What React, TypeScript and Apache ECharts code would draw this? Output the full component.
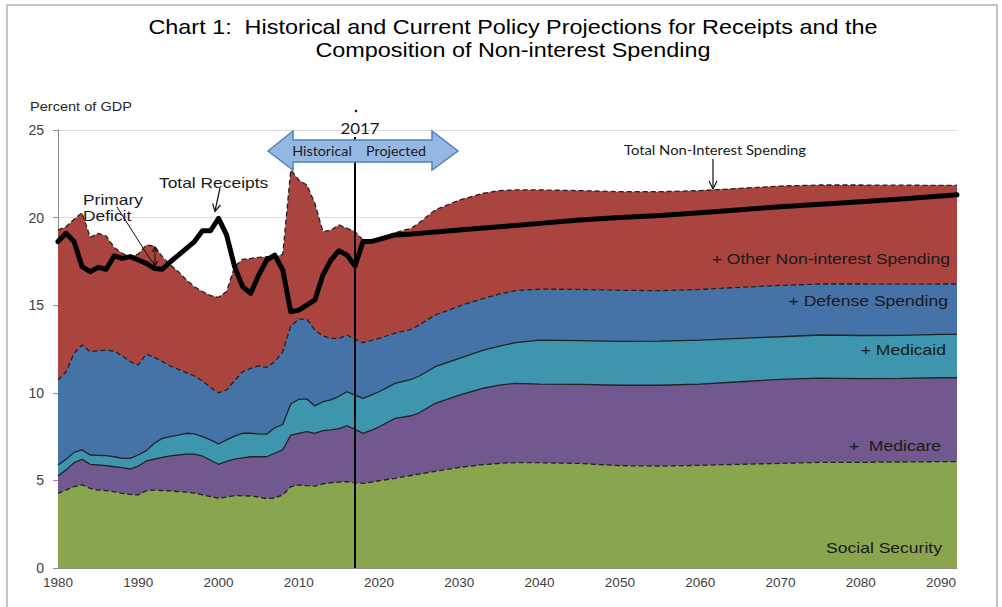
import React, { useEffect, useRef } from "react";
import * as echarts from "echarts";

// x positions (years): annual history 1980-2017, then projection points
const years = [
  1980, 1981, 1982, 1983, 1984, 1985, 1986, 1987, 1988, 1989,
  1990, 1991, 1992, 1993, 1994, 1995, 1996, 1997, 1998, 1999,
  2000, 2001, 2002, 2003, 2004, 2005, 2006, 2007, 2008, 2009,
  2010, 2011, 2012, 2013, 2014, 2015, 2016, 2017,
  2018, 2019, 2020, 2022, 2024, 2025, 2027, 2030, 2033, 2035, 2037,
  2040, 2045, 2050, 2055, 2060, 2065, 2070, 2075, 2080, 2085, 2090, 2092,
];

// cumulative tops of each band, percent of GDP
const socialSecurity = [
  4.26, 4.45, 4.65, 4.74, 4.55, 4.45, 4.42, 4.35, 4.26, 4.2,
  4.17, 4.41, 4.45, 4.42, 4.4, 4.36, 4.33, 4.27, 4.17, 4.08,
  3.98, 4.05, 4.13, 4.12, 4.11, 4.05, 3.96, 4.0, 4.17, 4.64,
  4.74, 4.7, 4.68, 4.8, 4.87, 4.9, 4.93, 4.87,
  4.83, 4.9, 4.98, 5.12, 5.28, 5.36, 5.52, 5.74, 5.9, 5.97, 6.02,
  6.01, 5.97, 5.84, 5.82, 5.86, 5.92, 5.97, 6.03, 6.03, 6.05, 6.07, 6.07,
];
const plusMedicare = [
  5.25, 5.6, 6.01, 6.2, 5.92, 5.88, 5.84, 5.78, 5.73, 5.65,
  5.82, 6.11, 6.22, 6.32, 6.4, 6.45, 6.5, 6.5, 6.39, 6.15,
  5.92, 6.08, 6.22, 6.28, 6.35, 6.35, 6.35, 6.55, 6.74, 7.59,
  7.69, 7.78, 7.69, 7.84, 7.88, 7.95, 8.12, 7.91,
  7.68, 7.85, 8.06, 8.54, 8.69, 8.86, 9.4, 9.87, 10.26, 10.44, 10.54,
  10.5, 10.48, 10.43, 10.43, 10.5, 10.63, 10.77, 10.84, 10.81, 10.82, 10.86, 10.86,
];
const plusMedicaid = [
  5.88, 6.2, 6.6, 6.74, 6.45, 6.43, 6.41, 6.35, 6.26, 6.26,
  6.45, 6.7, 7.12, 7.4, 7.5, 7.59, 7.69, 7.65, 7.5, 7.31,
  7.08, 7.31, 7.53, 7.69, 7.69, 7.65, 7.64, 8.0, 8.19, 9.36,
  9.63, 9.65, 9.25, 9.49, 9.6, 9.8, 10.06, 9.87,
  9.68, 9.87, 10.06, 10.54, 10.76, 10.96, 11.49, 11.96, 12.44, 12.67, 12.86,
  13.01, 12.98, 12.94, 12.95, 13.01, 13.11, 13.2, 13.3, 13.27, 13.28, 13.34, 13.34,
];
const plusDefense = [
  10.73, 11.2, 12.25, 12.73, 12.35, 12.4, 12.44, 12.38, 12.1, 11.78,
  11.59, 12.21, 12.02, 11.78, 11.53, 11.34, 11.15, 10.96, 10.67, 10.31,
  10.0, 10.16, 10.69, 11.2, 11.4, 11.53, 11.45, 11.78, 12.35, 13.81,
  14.2, 14.2, 13.58, 13.24, 13.11, 13.1, 13.3, 13.05,
  12.86, 12.98, 13.11, 13.4, 13.62, 13.87, 14.44, 14.95, 15.39, 15.64, 15.83,
  15.92, 15.9, 15.85, 15.83, 15.9, 16.02, 16.13, 16.21, 16.21, 16.2, 16.21, 16.21,
];
const totalNonInterest = [
  19.29, 19.48, 19.9, 20.28, 18.87, 19.1, 18.95, 18.3, 17.96, 17.77,
  17.92, 18.43, 18.38, 17.77, 17.3, 16.91, 16.44, 16.06, 15.78, 15.55,
  15.45, 15.78, 17.2, 17.62, 17.67, 17.73, 17.77, 17.77, 17.9, 22.72,
  22.15, 21.86, 20.82, 19.2, 19.29, 19.58, 19.39, 19.2,
  18.72, 18.72, 18.81, 19.14, 19.39, 19.71, 20.44, 21.0, 21.39, 21.54, 21.58,
  21.58, 21.54, 21.48, 21.48, 21.54, 21.67, 21.8, 21.86, 21.86, 21.85, 21.84, 21.84,
];
const totalReceipts = [
  18.63, 19.1, 18.63, 17.2, 16.91, 17.16, 17.05, 17.81, 17.67, 17.77,
  17.58, 17.39, 17.1, 17.05, 17.48, 17.86, 18.24, 18.63, 19.25, 19.25,
  19.96, 19.01, 17.2, 16.06, 15.67, 16.72, 17.58, 17.86, 17.01, 14.63,
  14.72, 15.01, 15.3, 16.72, 17.58, 18.11, 17.86, 17.24,
  18.63, 18.63, 18.76, 19.01, 19.06, 19.1, 19.18, 19.29, 19.4, 19.48, 19.55,
  19.67, 19.86, 20.01, 20.12, 20.28, 20.45, 20.62, 20.76, 20.9, 21.06, 21.23, 21.3,
];

const yTicks = [0, 5, 10, 15, 20, 25];
const splitYear = 2017;

const SANS = '"Liberation Sans", Arial, sans-serif';
const CAL = 'Lato, "Open Sans", sans-serif';

const pts = (arr: number[]) => years.map((y, i) => [y, arr[i]]);

const band = (name: string, data: number[], color: string, dashed: boolean) => ({
  type: "line",
  name,
  data: pts(data),
  symbol: "none",
  silent: true,
  lineStyle: { color: "#222", width: 1.3, type: dashed ? [5, 3] : "solid" },
  areaStyle: { color, opacity: 1 },
});

const txt = (
  x: number,
  y: number,
  text: string,
  size: number,
  align: string,
  family = SANS,
  scaleX = 1.17,
  fill = "#1a1a1a"
) => ({
  type: "text",
  x,
  y,
  scaleX,
  silent: true,
  z: 100,
  style: {
    text,
    fontSize: size,
    fontFamily: family,
    fill,
    align,
    verticalAlign: "middle",
    textAlign: align,
    textVerticalAlign: "middle",
  },
});

const seg = (x1: number, y1: number, x2: number, y2: number, w = 1.2) => ({
  type: "line",
  silent: true,
  z: 100,
  shape: { x1, y1, x2, y2 },
  style: { stroke: "#111", lineWidth: w },
});

const head = (p: number[][]) => ({
  type: "polyline",
  silent: true,
  z: 100,
  shape: { points: p },
  style: { stroke: "#111", lineWidth: 1.2, fill: "none" },
});

export default function App() {
  const ref = useRef<HTMLDivElement>(null);
  useEffect(() => {
    if (!ref.current) return;
    const chart = echarts.init(ref.current, undefined, { renderer: "svg" });
    chart.setOption({
      animation: false,
      backgroundColor: "#ffffff",
      grid: { left: 58, right: 45, top: 130, bottom: 39 },
      xAxis: {
        type: "value",
        min: 1980,
        max: 2092,
        interval: 10,
        axisLine: { lineStyle: { color: "#8c8c8c" } },
        axisTick: { show: false },
        splitLine: { show: false },
        axisLabel: {
          fontSize: 13.5,
          color: "#404040",
          fontFamily: SANS,
          margin: 7,
          showMaxLabel: false,
          formatter: (v: number) => String(v),
        },
      },
      yAxis: {
        type: "value",
        min: yTicks[0],
        max: yTicks[yTicks.length - 1],
        interval: 5,
        axisLine: { show: true, lineStyle: { color: "#8c8c8c" } },
        axisTick: { show: true, length: 5, lineStyle: { color: "#8c8c8c" } },
        splitLine: { lineStyle: { color: "#dedede" } },
        axisLabel: { fontSize: 14, color: "#404040", fontFamily: SANS, margin: 14 },
      },
      series: [
        band("Other Non-interest Spending", totalNonInterest, "#A9443F", true),
        band("Defense Spending", plusDefense, "#4572A7", true),
        band("Medicaid", plusMedicaid, "#3D96AE", false),
        band("Medicare", plusMedicare, "#71588F", false),
        band("Social Security", socialSecurity, "#89A54E", true),
        {
          type: "line",
          name: "Total Receipts",
          data: pts(totalReceipts),
          symbol: "none",
          silent: true,
          z: 5,
          lineStyle: { color: "#000", width: 5, join: "round", cap: "round" },
          markLine: {
            silent: true,
            symbol: ["none", "none"],
            label: { show: false },
            lineStyle: { color: "#000", width: 2, type: "solid" },
            data: [[{ coord: [splitYear, 24.6] }, { coord: [splitYear, 0] }]],
          },
        },
      ],
      graphic: [
        {
          type: "rect",
          silent: true,
          z: 0,
          shape: { x: 7, y: 5, width: 990, height: 612 },
          style: { fill: "none", stroke: "#c4c4c4", lineWidth: 2 },
        },
        txt(513, 27, "Chart 1:  Historical and Current Policy Projections for Receipts and the", 20, "center", SANS, 1.17, "#000"),
        txt(513, 50, "Composition of Non-interest Spending", 20, "center", SANS, 1.17, "#000"),
        txt(30, 107, "Percent of GDP", 13, "left", SANS, 1.12, "#262626"),
        {
          type: "polygon",
          silent: true,
          z: 90,
          shape: {
            points: [
              [268, 151], [293, 131], [293, 140], [432, 140], [432, 131],
              [458, 151], [432, 170], [432, 162], [293, 162], [293, 170],
            ],
          },
          style: { fill: "#95B8E3", stroke: "#4F81BD", lineWidth: 1.5 },
        },
        txt(322, 151, "Historical", 13, "center", CAL, 1.1),
        txt(396, 151, "Projected", 13, "center", CAL, 1.1),
        txt(360, 128, "2017", 16, "center", CAL, 1.05),
        { type: "circle", silent: true, z: 100, shape: { cx: 356, cy: 111, r: 1.3 }, style: { fill: "#222" } },
        txt(159, 182, "Total Receipts", 15, "left", SANS, 1.16),
        seg(220, 188, 215, 211),
        head([[220.4, 205], [215, 211.5], [212.6, 203.4]]),
        txt(83, 199, "Primary", 15, "left", SANS, 1.16),
        txt(83, 215, "Deficit", 15, "left", SANS, 1.16),
        seg(117, 207, 152, 262, 1),
        seg(155, 247, 155, 266, 1),
        head([[152.5, 252], [155, 247], [157.5, 252]]),
        head([[152.5, 261], [155, 266], [157.5, 261]]),
        txt(715, 150, "Total Non-Interest Spending", 13, "center", CAL, 1.14),
        seg(713, 159, 713, 188),
        head([[709, 181], [713, 189], [717, 181]]),
        txt(950, 258, "+ Other Non-interest Spending", 15, "right"),
        txt(948, 300, "+ Defense Spending", 15, "right"),
        txt(946, 349, "+ Medicaid", 15, "right"),
        txt(941, 445, "+  Medicare", 15, "right"),
        txt(942, 547, "Social Security", 15, "right"),
      ],
    });
    return () => chart.dispose();
  }, []);
  return (
    <div
      ref={ref}
      style={{ position: "absolute", left: 0, top: 0, width: 1002, height: 607, background: "#fff" }}
    />
  );
}
